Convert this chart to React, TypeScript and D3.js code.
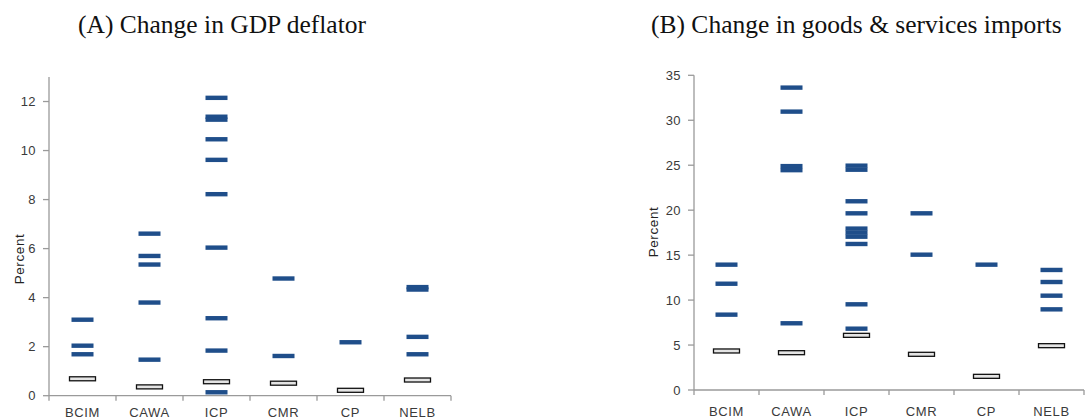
import React, { useEffect, useRef } from "react";
import * as d3 from "d3";

const categories = ["BCIM", "CAWA", "ICP", "CMR", "CP", "NELB"];

// panel A: change in GDP deflator (percent)
const deflatorMarks = [
  [3.1, 2.04, 1.69],
  [6.61, 5.7, 5.35, 3.8, 1.47],
  [12.15, 11.38, 11.26, 10.46, 9.62, 8.22, 6.04, 3.16, 1.84, 0.14],
  [4.78, 1.62],
  [2.18],
  [4.43, 4.33, 2.4, 1.69],
];
const deflatorBase = [0.69, 0.36, 0.57, 0.51, 0.22, 0.64];
const deflatorTicks = [0, 2, 4, 6, 8, 10, 12];

// panel B: change in goods & services imports (percent)
const importMarks = [
  [13.94, 11.82, 8.38],
  [33.63, 30.96, 24.9, 24.45, 7.42],
  [24.95, 24.5, 20.99, 19.65, 17.95, 17.5, 17.05, 16.24, 9.53, 6.82],
  [19.65, 15.05],
  [13.94],
  [13.35, 12.01, 10.49, 8.97],
];
const importBase = [4.34, 4.15, 6.08, 3.97, 1.52, 4.93];
const importTicks = [0, 5, 10, 15, 20, 25, 30, 35];

const sans = "Liberation Sans, Arial, sans-serif";

const App = () => {
  const ref = useRef(null);

  useEffect(() => {
    drawChart();
  }, []);

  const drawChart = () => {
    const svg = d3.select(ref.current);
    svg.selectAll("*").remove();

    const panel = (opts) => {
      const { left, right, bottom, top, max, ticks, marks, base, title, titleX, labelX, labelY, labelDy } = opts;
      const x = d3.scaleBand().domain(categories).range([left, right]);
      const y = d3.scaleLinear().domain([0, max]).range([bottom, top]);
      const g = svg.append("g");

      g.append("text")
        .attr("x", titleX)
        .attr("y", 33)
        .attr("font-family", "Liberation Serif, Times New Roman, serif")
        .attr("font-size", 25.5)
        .attr("fill", "#111")
        .text(title);

      // y axis
      g.append("line")
        .attr("x1", left).attr("x2", left)
        .attr("y1", y(max)).attr("y2", bottom)
        .attr("stroke", "#9a9a9a").attr("stroke-width", 1.3);
      ticks.forEach((t) => {
        g.append("line")
          .attr("x1", left - 6).attr("x2", left)
          .attr("y1", y(t)).attr("y2", y(t))
          .attr("stroke", "#9a9a9a").attr("stroke-width", 1.3);
        g.append("text")
          .attr("x", left - 13)
          .attr("y", y(t))
          .attr("dy", "0.35em")
          .attr("text-anchor", "end")
          .attr("font-family", sans)
          .attr("font-size", 13)
          .attr("letter-spacing", 0.4)
          .attr("fill", "#3a3a3a")
          .text(t);
      });

      // x axis
      g.append("line")
        .attr("x1", left).attr("x2", right)
        .attr("y1", bottom).attr("y2", bottom)
        .attr("stroke", "#9a9a9a").attr("stroke-width", 1.3);
      categories.concat(["_end"]).forEach((c, i) => {
        const xx = i < categories.length ? x(c) : right;
        g.append("line")
          .attr("x1", xx).attr("x2", xx)
          .attr("y1", bottom).attr("y2", bottom + 5)
          .attr("stroke", "#9a9a9a").attr("stroke-width", 1.3);
      });
      categories.forEach((c) => {
        g.append("text")
          .attr("x", x(c) + x.bandwidth() / 2)
          .attr("y", bottom + labelDy)
          .attr("dy", "0.35em")
          .attr("text-anchor", "middle")
          .attr("font-family", sans)
          .attr("font-size", 13)
          .attr("letter-spacing", 0.6)
          .attr("fill", "#3a3a3a")
          .text(c);
      });

      g.append("text")
        .attr("transform", "translate(" + labelX + "," + labelY + ") rotate(-90)")
        .attr("text-anchor", "middle")
        .attr("dy", "0.35em")
        .attr("font-family", sans)
        .attr("font-size", 13.5)
        .attr("letter-spacing", 0.6)
        .attr("fill", "#222")
        .text("Percent");

      // hollow markers
      base.forEach((v, i) => {
        const cx = x(categories[i]) + x.bandwidth() / 2;
        g.append("rect")
          .attr("x", cx - 13)
          .attr("y", y(v) - 2)
          .attr("width", 26)
          .attr("height", 4)
          .attr("fill", "#e4e4e4")
          .attr("stroke", "#111")
          .attr("stroke-width", 1.3);
      });

      // blue markers
      marks.forEach((vals, i) => {
        const cx = x(categories[i]) + x.bandwidth() / 2;
        vals.forEach((v) => {
          g.append("rect")
            .attr("x", cx - 11)
            .attr("y", y(v) - 2.2)
            .attr("width", 22)
            .attr("height", 4.4)
            .attr("fill", "#1f4e8a");
        });
      });
    };

    panel({
      left: 49, right: 451, bottom: 395.7, top: 77, max: 13,
      ticks: deflatorTicks, marks: deflatorMarks, base: deflatorBase,
      title: "(A) Change in GDP deflator", titleX: 78, labelX: 19, labelY: 259, labelDy: 17,
    });
    panel({
      left: 694, right: 1084, bottom: 390, top: 75.3, max: 35,
      ticks: importTicks, marks: importMarks, base: importBase,
      title: "(B) Change in goods & services imports", titleX: 651, labelX: 653, labelY: 232, labelDy: 21,
    });
  };

  return (
    <div>
      <svg
        ref={ref}
        width={1086}
        height={419}
        style={{ position: "absolute", left: 0, top: 0, background: "#fff" }}
      />
    </div>
  );
};

export default App;
